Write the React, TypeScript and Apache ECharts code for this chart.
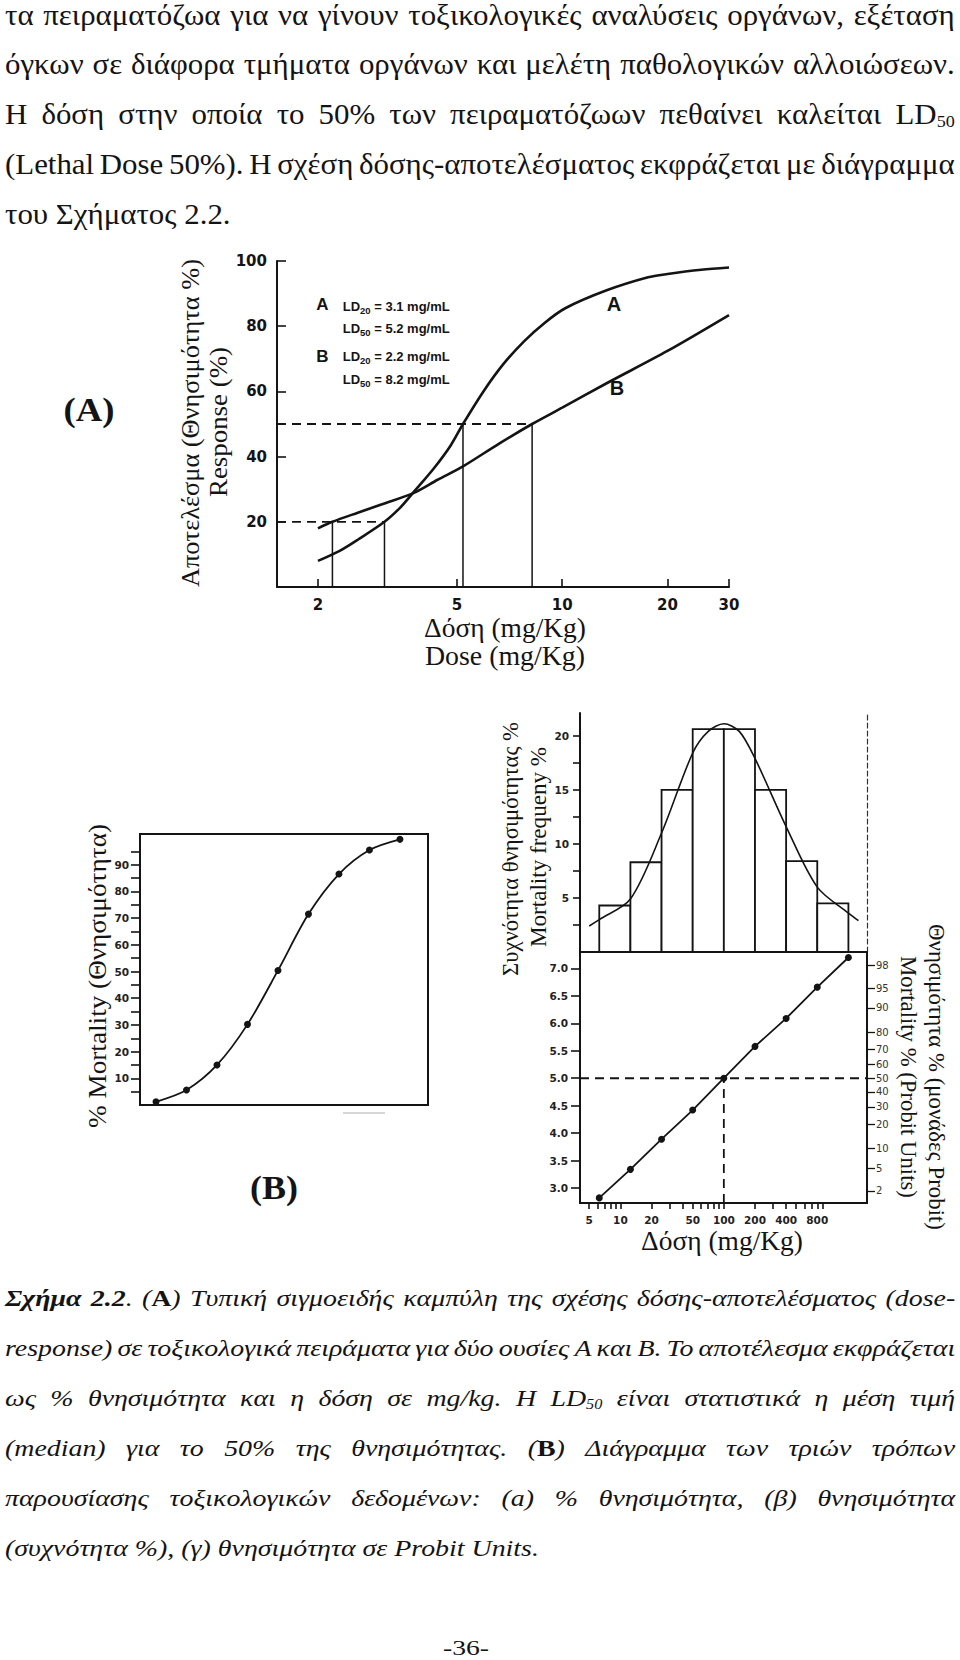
import React, { useEffect, useRef } from "react";
import * as echarts from "echarts";

const INK = "#141414";
const SERIF = '"Liberation Serif", "DejaVu Serif", serif';
const SANS = '"Liberation Sans", "DejaVu Sans", sans-serif';
const DJ = '"DejaVu Sans", "Liberation Sans", sans-serif';

type Seg = [string, string];

// ---------------- page text ----------------
const paragraphLines: Seg[][] = [
  [["n", "τα πειραματόζωα για να γίνουν τοξικολογικές αναλύσεις οργάνων, εξέταση"]],
  [["n", "όγκων σε διάφορα τμήματα οργάνων και μελέτη παθολογικών αλλοιώσεων."]],
  [["n", "Η δόση στην οποία το 50% των πειραματόζωων πεθαίνει καλείται LD"], ["sub", "50"]],
  [["n", "(Lethal Dose 50%). Η σχέση δόσης-αποτελέσματος εκφράζεται με διάγραμμα"]],
  [["n", "του Σχήματος 2.2."]],
];
const captionLines: Seg[][] = [
  [["bi", "Σχήμα 2.2"], ["i", ". ("], ["b", "A"], ["i", ") Τυπική σιγμοειδής καμπύλη της σχέσης δόσης-αποτελέσματος (dose-"]],
  [["i", "response) σε τοξικολογικά πειράματα για δύο ουσίες A και B. Το αποτέλεσμα εκφράζεται"]],
  [["i", "ως % θνησιμότητα και η δόση σε mg/kg. Η LD"], ["isub", "50"], ["i", " είναι στατιστικά η μέση τιμή"]],
  [["i", "(median) για το 50% της θνησιμότητας. ("], ["b", "B"], ["i", ") Διάγραμμα των τριών τρόπων"]],
  [["i", "παρουσίασης τοξικολογικών δεδομένων: (a) % θνησιμότητα, (β) θνησιμότητα"]],
  [["i", "(συχνότητα %), (γ) θνησιμότητα σε Probit Units."]],
];
const pageNumber = "-36-";

// ---------------- (A) dose-response curves ----------------
const doseTicksA = [2, 5, 10, 20, 30];
const responseTicksA = [20, 40, 60, 80, 100];
const curveADose = [2.0, 2.3, 2.6, 3.1, 3.45, 3.75, 4.3, 4.8, 5.2, 5.95, 6.8, 7.8, 8.9, 10.2, 13.4, 17.6, 20, 25, 30];
const curveAResp = [8.0, 11.0, 14.5, 20.0, 24.5, 29.0, 36.5, 43.5, 50.0, 60.0, 68.5, 75.5, 81.0, 85.5, 91.0, 95.0, 96.0, 97.3, 98.0];
const curveBDose = [2.0, 2.2, 2.6, 3.05, 3.75, 4.4, 5.2, 6.6, 8.2, 10, 13.4, 20, 30];
const curveBResp = [18.0, 20.0, 22.8, 25.4, 28.8, 32.9, 37.0, 44.0, 50.0, 55.0, 62.5, 72.4, 83.4];
const ldA = { name: "A", ld20: 3.1, ld50: 5.2 };
const ldB = { name: "B", ld20: 2.2, ld50: 8.2 };
const ldLevels = { ld20: 20, ld50: 50 };

// ---------------- (B) mortality % ----------------
const mortalityPct = [1.2, 5.6, 15.0, 30.2, 50.4, 71.5, 86.5, 95.5, 99.5];
const mortalityLabelTicks = [10, 20, 30, 40, 50, 60, 70, 80, 90];
const mortalityMinorTicks = [5, 10, 15, 20, 25, 30, 35, 40, 45, 50, 55, 60, 65, 70, 75, 80, 85, 90, 95];

// ---------------- (B) mortality frequency ----------------
const histEdges = [6.25, 12.5, 25, 50, 100, 200, 400, 800, 1600];
const histFreq = [4.3, 8.3, 15.0, 20.6, 20.6, 15.0, 8.4, 4.5];
const histLabelTicks = [5, 10, 15, 20];
const histMinorTicks = [2.5, 5, 7.5, 10, 12.5, 15, 17.5, 20];
const gaussDose = [5, 6.25, 12.5, 25, 50, 70.7, 100, 141, 200, 400, 800, 1600, 2000];
const gaussFreq = [2.4, 3.0, 4.9, 11.0, 18.4, 20.4, 21.1, 20.4, 17.9, 11.6, 6.0, 3.6, 2.9];

// ---------------- (B) probit ----------------
const probitDose = [6.25, 12.5, 25, 50, 100, 200, 400, 800, 1600];
const probitValue = [2.82, 3.34, 3.89, 4.42, 5.0, 5.58, 6.09, 6.66, 7.2];
const probitTicks = [3.0, 3.5, 4.0, 4.5, 5.0, 5.5, 6.0, 6.5, 7.0];
const doseLabelTicks = [5, 10, 20, 50, 100, 200, 400, 800];
const doseMinorTicks = [5, 6, 7, 8, 9, 10, 20, 30, 40, 50, 60, 70, 80, 90, 100, 200, 300, 400, 500, 600, 700, 800, 900];
const pctLabels = ["98", "95", "90", "80", "70", "60", "50", "40", "30", "20", "10", "5", "2"];
const pctProbit = [7.05, 6.64, 6.28, 5.84, 5.52, 5.25, 5.0, 4.75, 4.48, 4.16, 3.72, 3.36, 2.95];
const medianProbit = 5.0;
const medianDose = 100;

// axis extents
const A_XMIN = 1.527, A_XMAX = 30;
const DOSE_MIN = 4.07, DOSE_MAX = 2420;
const PROBIT_MIN = 2.727, PROBIT_MAX = 7.3;
const MORT_XMIN = 0.475, MORT_XMAX = 9.92, MORT_YMAX = 101.5;
const HIST_YMAX = 22.1;

// ---------------- helpers ----------------
let _ctx: CanvasRenderingContext2D | null = null;
function measure(text: string, font: string): number {
  if (!_ctx) _ctx = document.createElement("canvas").getContext("2d");
  _ctx!.font = font;
  return _ctx!.measureText(text).width;
}
function fontOf(st: any): string {
  return `${st.fontStyle || "normal"} ${st.fontWeight || "normal"} ${st.fontSize}px ${st.fontFamily}`;
}
const zip = (a: number[], b: number[]) => a.map((v, i) => [v, b[i]]);

function tokenize(segs: Seg[], rich: any) {
  const items: { k?: string; w?: string; gap?: boolean }[] = [];
  segs.forEach(([k, t]) => {
    t.split(" ").forEach((p, i) => {
      if (i > 0) items.push({ gap: true });
      if (p) items.push({ k, w: p });
    });
  });
  let wordsW = 0;
  let gaps = 0;
  items.forEach((it) => {
    if (it.gap) gaps++;
    else wordsW += measure(it.w!, fontOf(rich[it.k!]));
  });
  return { items, wordsW, gaps };
}

function paragraph(lines: Seg[][], rich: any, mainKey: string, x0: number, width: number, ys: number[], tight: number[]) {
  const spaceW = measure(" ", fontOf(rich[mainKey]));
  const parsed = lines.map((l) => tokenize(l, rich));
  const nat = parsed.map((p) => p.wordsW + p.gaps * spaceW);
  const c = tight.reduce((s, i) => s + width / nat[i], 0) / tight.length;
  return parsed.map((p, i) => {
    const justify = i < lines.length - 1;
    let gapW = spaceW;
    if (justify && p.gaps > 0) gapW = Math.max(spaceW * 0.4, (width / c - p.wordsW) / p.gaps);
    const r = { ...rich, gap: { ...rich[mainKey], width: gapW } };
    const text = p.items.map((it) => (it.gap ? "{gap| }" : `{${it.k}|${it.w}}`)).join("");
    const m = rich[mainKey];
    return {
      type: "text",
      x: x0,
      y: ys[i],
      scaleX: c,
      silent: true,
      style: {
        text,
        rich: r,
        fontFamily: m.fontFamily,
        fontSize: m.fontSize,
        fill: INK,
        align: "left",
        verticalAlign: "middle",
        textAlign: "left",
        textVerticalAlign: "middle",
      },
    };
  });
}

function title(text: string, x: number, y: number, fontSize: number, target: number | null, rotation = 0, weight = "bold" as string, family = SERIF) {
  const w = measure(text, `normal ${weight} ${fontSize}px ${family}`);
  return {
    type: "text",
    x,
    y,
    rotation,
    scaleX: target ? target / w : 1,
    silent: true,
    style: {
      text,
      fontFamily: family,
      fontSize,
      fontWeight: weight,
      fill: INK,
      align: "center",
      verticalAlign: "middle",
      textAlign: "center",
      textVerticalAlign: "middle",
    },
  };
}

const legendRich = {
  m: { fontFamily: SANS, fontWeight: "bold", fontSize: 13, lineHeight: 16, verticalAlign: "middle", fill: INK },
  s: { fontFamily: SANS, fontWeight: "bold", fontSize: 9.5, lineHeight: 8.4, height: 8.4, verticalAlign: "bottom", fill: INK },
};
function legendLine(x: number, y: number, sub: string, val: number) {
  return {
    type: "text",
    x,
    y,
    silent: true,
    style: {
      text: `{m|LD}{s|${sub}}{m| = ${val} mg/mL}`,
      rich: legendRich,
      fontFamily: SANS,
      fontSize: 13,
      fill: INK,
      align: "left",
      verticalAlign: "middle",
      textAlign: "left",
      textVerticalAlign: "middle",
    },
  };
}

const axisLineStyle = { show: true, onZero: false, lineStyle: { color: INK, width: 2 } };
const tickStyle = { color: INK, width: 1.6 };
const smallLabel = { fontFamily: DJ, fontWeight: "bold", fontSize: 10.5, color: "#222" };

function buildOption() {
  const paraRich = {
    n: { fontFamily: SERIF, fontSize: 29, lineHeight: 29, verticalAlign: "middle", fill: INK },
    sub: { fontFamily: SERIF, fontSize: 17, lineHeight: 15, height: 15, verticalAlign: "bottom", fill: INK },
  };
  const capRich = {
    i: { fontFamily: SERIF, fontStyle: "italic", fontSize: 24, lineHeight: 30, verticalAlign: "middle", fill: INK },
    bi: { fontFamily: SERIF, fontStyle: "italic", fontWeight: "bold", fontSize: 24, lineHeight: 30, verticalAlign: "middle", fill: INK },
    b: { fontFamily: SERIF, fontWeight: "bold", fontSize: 24, lineHeight: 30, verticalAlign: "middle", fill: INK },
    isub: { fontFamily: SERIF, fontStyle: "italic", fontSize: 14, lineHeight: 18, height: 18, verticalAlign: "bottom", fill: INK },
  };

  const graphics: any[] = [
    ...paragraph(paragraphLines, paraRich, "n", 5, 950, [15, 64, 114, 164, 214], [0, 3]),
    ...paragraph(captionLines, capRich, "i", 5, 950, [1298, 1348, 1398, 1448, 1498, 1548], [0, 1]),
    title(pageNumber, 466, 1648, 22, 46, 0, "normal"),
    // panel labels
    title("(A)", 89, 409, 34, 51, 0, "bold"),
    title("(B)", 274, 1188, 34, 48, 0, "bold"),
    // chart A axis titles
    title("Αποτελέσμα (Θνησιμότητα %)", 191, 423, 26, 328, Math.PI / 2, "normal"),
    title("Response (%)", 218, 422, 26, 150, Math.PI / 2, "normal"),
    title("Δόση (mg/Kg)", 505, 628, 27, 162, 0, "normal"),
    title("Dose (mg/Kg)", 505, 656, 27, 160, 0, "normal"),
    // chart A legend
    title(ldA.name, 322.5, 304, 17, null, 0, "bold", SANS),
    legendLine(342.7, 306.3, "20", ldA.ld20),
    legendLine(342.7, 328.3, "50", ldA.ld50),
    title(ldB.name, 322.5, 356, 17, null, 0, "bold", SANS),
    legendLine(342.7, 356.3, "20", ldB.ld20),
    legendLine(342.7, 379.6, "50", ldB.ld50),
    title(ldA.name, 614, 304, 20, null, 0, "bold", SANS),
    title(ldB.name, 617, 388, 20, null, 0, "bold", SANS),
    // panel B titles
    title("% Mortality (Θνησιμότητα)", 97, 976, 26, 304, Math.PI / 2, "normal"),
    title("Συχνότητα θνησιμότητας %", 510, 849, 23, 254, Math.PI / 2, "normal"),
    title("Mortality frequeny %", 538, 847, 23, 200, Math.PI / 2, "normal"),
    title("Θνησιμότητα % (μονάδες Probit)", 937, 1077, 23, 306, -Math.PI / 2, "normal"),
    title("Mortality % (Probit Units)", 909, 1077, 23, 242, -Math.PI / 2, "normal"),
    title("Δόση (mg/Kg)", 722, 1241, 27, 162, 0, "normal"),
    // faint scan mark under panel B(a)
    { type: "line", silent: true, shape: { x1: 343, y1: 1113, x2: 385, y2: 1113 }, style: { stroke: "#c8c8c8", lineWidth: 1.5 } },
  ];

  const line = (xi: number, yi: number, data: any[], extra: any = {}) => ({
    type: "line",
    xAxisIndex: xi,
    yAxisIndex: yi,
    data,
    symbol: "none",
    silent: true,
    animation: false,
    lineStyle: { color: INK, width: 2 },
    ...extra,
  });
  const dashed = { lineStyle: { color: INK, width: 1.8, type: [9, 6] } };
  const thin = { lineStyle: { color: INK, width: 1.5 } };

  const series: any[] = [
    // (A)
    line(0, 0, zip(curveADose, curveAResp), { smooth: 0.3, lineStyle: { color: INK, width: 2.6 } }),
    line(0, 0, zip(curveBDose, curveBResp), { smooth: 0.3, lineStyle: { color: INK, width: 2.6 } }),
    line(0, 0, [[A_XMIN, ldLevels.ld20], [Math.max(ldA.ld20, ldB.ld20), ldLevels.ld20]], dashed),
    line(0, 0, [[A_XMIN, ldLevels.ld50], [Math.max(ldA.ld50, ldB.ld50), ldLevels.ld50]], dashed),
    line(0, 0, [[ldB.ld20, 0], [ldB.ld20, ldLevels.ld20]], thin),
    line(0, 0, [[ldA.ld20, 0], [ldA.ld20, ldLevels.ld20]], thin),
    line(0, 0, [[ldA.ld50, 0], [ldA.ld50, ldLevels.ld50]], thin),
    line(0, 0, [[ldB.ld50, 0], [ldB.ld50, ldLevels.ld50]], thin),
    // (B) mortality %
    line(1, 1, mortalityPct.map((v, i) => [i + 1, v]), {
      smooth: 0.3,
      symbol: "circle",
      symbolSize: 7,
      showSymbol: true,
      itemStyle: { color: INK },
      lineStyle: { color: INK, width: 1.8 },
    }),
    // (B) histogram
    {
      type: "custom",
      xAxisIndex: 2,
      yAxisIndex: 2,
      silent: true,
      data: histFreq.map((f, i) => [histEdges[i], histEdges[i + 1], f]),
      encode: { x: [0, 1], y: 2 },
      renderItem: (params: any, api: any) => {
        const p1 = api.coord([api.value(0), api.value(2)]);
        const p2 = api.coord([api.value(1), 0]);
        return {
          type: "rect",
          shape: { x: p1[0], y: p1[1], width: p2[0] - p1[0], height: p2[1] - p1[1] },
          style: { fill: "#fff", stroke: INK, lineWidth: 1.8 },
        };
      },
    },
    line(2, 2, zip(gaussDose, gaussFreq), { smooth: 0.3, lineStyle: { color: INK, width: 1.6 } }),
    // (B) probit
    line(3, 4, [[DOSE_MIN, medianProbit], [DOSE_MAX, medianProbit]], dashed),
    line(3, 4, [[medianDose, PROBIT_MIN], [medianDose, medianProbit]], dashed),
    line(3, 4, zip(probitDose, probitValue), {
      symbol: "circle",
      symbolSize: 7,
      showSymbol: true,
      itemStyle: { color: INK },
      lineStyle: { color: INK, width: 1.8 },
    }),
  ];

  const hidden = { show: false };

  return {
    animation: false,
    backgroundColor: "#ffffff",
    textStyle: { fontFamily: SANS },
    grid: [
      { left: 277, top: 261, width: 452, height: 326, show: false, containLabel: false },
      { left: 140, top: 834, width: 288, height: 271, show: true, borderColor: INK, borderWidth: 2, backgroundColor: "transparent", containLabel: false },
      { left: 580, top: 713, width: 287, height: 239, show: false, containLabel: false },
      { left: 580, top: 952, width: 287, height: 251, show: true, borderColor: INK, borderWidth: 2, backgroundColor: "transparent", containLabel: false },
    ],
    xAxis: [
      {
        type: "log",
        logBase: 10,
        gridIndex: 0,
        min: A_XMIN,
        max: A_XMAX,
        axisLine: axisLineStyle,
        axisTick: { show: true, inside: true, length: 8, customValues: doseTicksA, lineStyle: tickStyle },
        axisLabel: {
          customValues: doseTicksA,
          margin: 10,
          fontFamily: DJ,
          fontWeight: "bold",
          fontSize: 15,
          color: INK,
          formatter: (v: number) => String(+(+v).toPrecision(3)),
        },
        splitLine: hidden,
        minorTick: hidden,
      },
      {
        type: "value",
        gridIndex: 1,
        min: MORT_XMIN,
        max: MORT_XMAX,
        axisLine: axisLineStyle,
        axisTick: hidden,
        axisLabel: hidden,
        splitLine: hidden,
      },
      {
        type: "log",
        logBase: 10,
        gridIndex: 2,
        min: DOSE_MIN,
        max: DOSE_MAX,
        axisLine: axisLineStyle,
        axisTick: hidden,
        axisLabel: hidden,
        splitLine: hidden,
        minorTick: hidden,
      },
      {
        type: "log",
        logBase: 10,
        gridIndex: 3,
        min: DOSE_MIN,
        max: DOSE_MAX,
        axisLine: axisLineStyle,
        axisTick: { show: true, inside: false, length: 6, customValues: doseMinorTicks, lineStyle: tickStyle },
        axisLabel: { ...smallLabel, customValues: doseLabelTicks, margin: 11, formatter: (v: number) => String(+(+v).toPrecision(3)) },
        splitLine: hidden,
        minorTick: hidden,
      },
    ],
    yAxis: [
      {
        type: "value",
        gridIndex: 0,
        min: 0,
        max: 100,
        axisLine: axisLineStyle,
        axisTick: { show: true, inside: true, length: 9, customValues: responseTicksA, lineStyle: tickStyle },
        axisLabel: { customValues: responseTicksA, margin: 10, fontFamily: DJ, fontWeight: "bold", fontSize: 15, color: INK },
        splitLine: hidden,
      },
      {
        type: "value",
        gridIndex: 1,
        min: 0,
        max: MORT_YMAX,
        axisLine: axisLineStyle,
        axisTick: { show: true, inside: false, length: 9, customValues: mortalityMinorTicks, lineStyle: tickStyle },
        axisLabel: { ...smallLabel, customValues: mortalityLabelTicks, margin: 11 },
        splitLine: hidden,
      },
      {
        type: "value",
        gridIndex: 2,
        min: 0,
        max: HIST_YMAX,
        axisLine: axisLineStyle,
        axisTick: { show: true, inside: false, length: 7, customValues: histMinorTicks, lineStyle: tickStyle },
        axisLabel: { ...smallLabel, customValues: histLabelTicks, margin: 11 },
        splitLine: hidden,
      },
      {
        type: "value",
        gridIndex: 2,
        position: "right",
        min: 0,
        max: HIST_YMAX,
        axisLine: { show: true, onZero: false, lineStyle: { color: "#333", width: 1.2, type: [5, 3] } },
        axisTick: hidden,
        axisLabel: hidden,
        splitLine: hidden,
      },
      {
        type: "value",
        gridIndex: 3,
        min: PROBIT_MIN,
        max: PROBIT_MAX,
        axisLine: axisLineStyle,
        axisTick: { show: true, inside: false, length: 9, customValues: probitTicks, lineStyle: tickStyle },
        axisLabel: { ...smallLabel, customValues: probitTicks, margin: 12, formatter: (v: number) => (+v).toFixed(1) },
        splitLine: hidden,
      },
      {
        type: "value",
        gridIndex: 3,
        position: "right",
        min: PROBIT_MIN,
        max: PROBIT_MAX,
        axisLine: axisLineStyle,
        axisTick: { show: true, inside: false, length: 8, customValues: pctProbit, lineStyle: { color: INK, width: 1.3 } },
        axisLabel: {
          customValues: pctProbit,
          margin: 9,
          fontFamily: DJ,
          fontSize: 10,
          color: "#333",
          formatter: (v: number) => {
            let best = 0;
            pctProbit.forEach((p, i) => {
              if (Math.abs(p - v) < Math.abs(pctProbit[best] - v)) best = i;
            });
            return pctLabels[best];
          },
        },
        splitLine: hidden,
      },
    ],
    series,
    graphic: { elements: graphics },
  };
}

export default function App() {
  const ref = useRef<HTMLDivElement>(null);
  useEffect(() => {
    if (!ref.current) return;
    const chart = echarts.init(ref.current, null, { renderer: "svg" });
    chart.setOption(buildOption() as any);
    return () => chart.dispose();
  }, []);
  return (
    <div
      ref={ref}
      style={{ position: "absolute", left: 0, top: 0, width: 960, height: 1660, background: "#fff" }}
    />
  );
}
